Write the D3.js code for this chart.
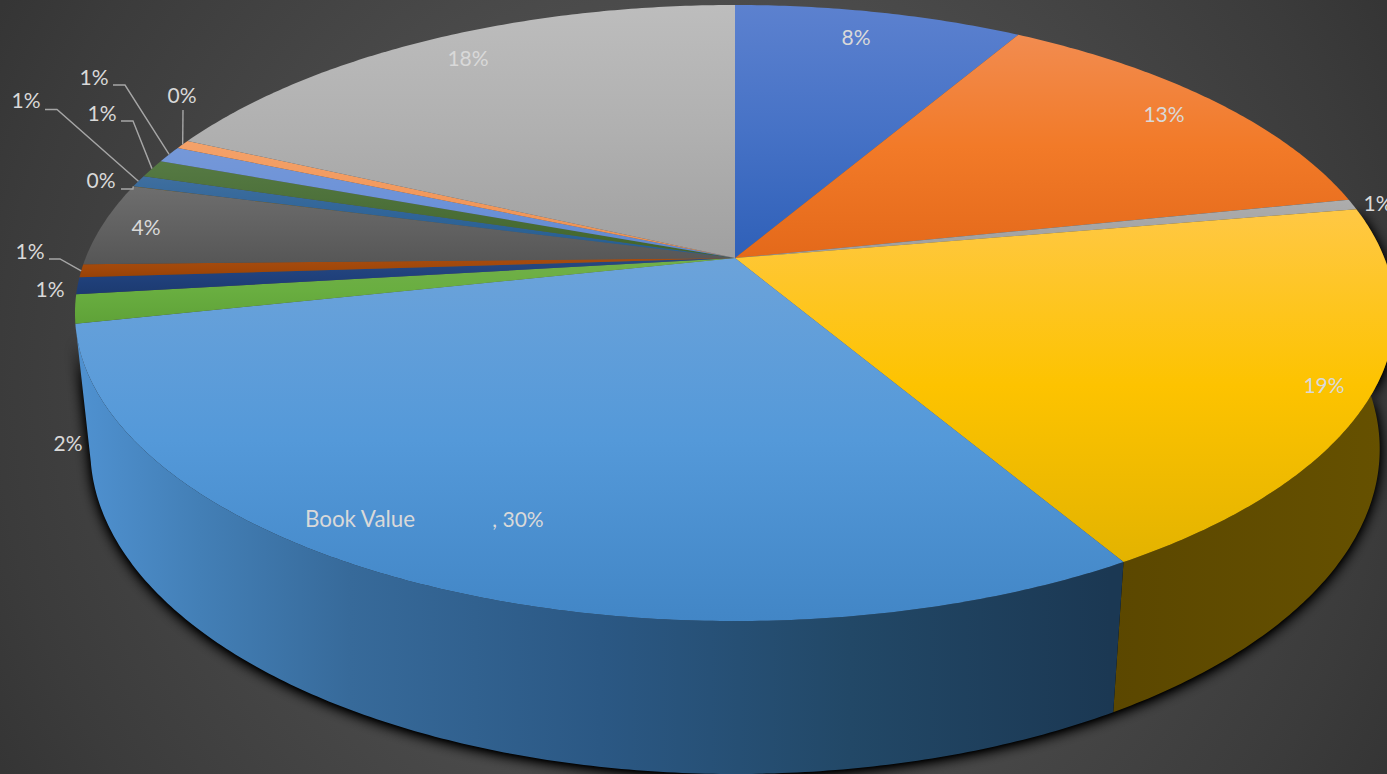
<!DOCTYPE html>
<html>
<head>
<meta charset="utf-8">
<script src="https://cdn.jsdelivr.net/npm/d3@7"></script>
<style>
  html, body { margin: 0; padding: 0; background: #3a3a3a; overflow: hidden; }
  text { font-family: Lato, "Open Sans", sans-serif; font-size: 21px; fill: #d9d9d9; }
</style>
</head>
<body>
<div id="chart"></div>
<script>
// share of each slice (percent)
let slice_values = [8.4, 13.35, 0.55, 19.25, 30.04, 1.5, 0.88, 0.69, 4.36, 0.01, 0.62, 0.94, 0.87, 0.47, 18.06]
let slice_labels = ["8%", "13%", "1%", "19%", ", 30%", "2%", "1%", "1%", "4%", "0%", "1%", "1%", "1%", "0%", "18%"]
let big_label_name = "Book Value"

// colors of the top face: top of slice, middle, bottom of slice
let color_light = ["#5c81cf", "#f28c50", "#adadad", "#ffc845", "#6ca3da", "#72b04a", "#284a80", "#a64c10", "#6e6e6e", "#997300", "#3f6f9f", "#567a44", "#7598d8", "#f4a26a", "#bdbdbd"]
let color_mid = ["#4672c6", "#f27a28", "#a5a5a5", "#fdc300", "#5499d9", "#69ae40", "#20417c", "#a2480a", "#626262", "#997300", "#2f6498", "#4b6f38", "#6c92d8", "#f2985c", "#b0b0b0"]
let color_dark = ["#2f60b8", "#e4691a", "#9e9e9e", "#e3b300", "#4286c6", "#5fa238", "#1c3a70", "#984206", "#565656", "#8f6a00", "#255e91", "#40642a", "#6088ce", "#ec9050", "#a0a0a0"]

// side wall gradient, stops along x
let wall_blue_x = [80, 200, 350, 600, 850, 1110]
let wall_blue_colors = ["#4f91d0", "#437fb6", "#376a9a", "#2b5884", "#224867", "#1b3853"]
let wall_yellow_x = [1110, 1390]
let wall_yellow_colors = ["#5b4700", "#665100"]

// leader lines: slice index, elbow, label side end
let leaders = [
    {slice: 7, from: [49, 259], elbow: [60, 259]},
    {slice: 9, from: [121, 189], elbow: [133, 189]},
    {slice: 10, from: [45, 109.5], elbow: [57, 109.5]},
    {slice: 11, from: [121, 121], elbow: [133, 121]},
    {slice: 12, from: [113, 85], elbow: [125, 85]},
    {slice: 13, from: [183, 110], elbow: [183, 110]}
]

// label centers, placed by hand like in the original
let label_spots = [[856, 36], [1164, 113], [1378, 202], [1324, 384], [518, 518], [68, 442], [50, 288], [30, 250], [146, 226], [101, 179], [26, 99], [102, 112], [94, 76], [182, 94], [468, 57]]

let w = 1387
let h = 774

// perspective of the disc
let apex_x = 735
let apex_y = 258
let half_w = 649.4
let half_h = 298.2
let persp = 0.1786
let depth_w = 0.023
let depth_drop = 137.5 / 298.2

let x_scale = d3.scaleLinear().domain([-1, 1]).range([apex_x - half_w, apex_x + half_w])
let y_scale = d3.scaleLinear().domain([-1, 1]).range([apex_y - half_h, apex_y + half_h])

function project(angle, z) {
    let u = Math.sin(angle)
    let v = -Math.cos(angle)
    let k = 1 - persp * v + depth_w * z
    return [x_scale(u / k), y_scale((v + depth_drop * z) / k)]
}

function arc_points(start, end, z) {
    let n = Math.max(2, Math.ceil((end - start) / 0.01))
    return d3.range(n + 1).map(i => project(start + (end - start) * i / n, z))
}

let pie = d3.pie().sort(null).value(d => d)
let slices = pie(slice_values)
let line = d3.line()

let svg = d3.select("#chart")
    .append("svg")
    .attr("width", w)
    .attr("height", h)
    .style("display", "block")

let defs = svg.append("defs")

let bg = defs.append("radialGradient")
    .attr("id", "bg")
    .attr("gradientUnits", "userSpaceOnUse")
    .attr("cx", 693).attr("cy", 387).attr("r", 790)
;[[0, "#5e5e5e"], [0.5, "#4b4b4b"], [0.88, "#3b3b3b"], [1, "#353535"]].forEach(s => {
    bg.append("stop").attr("offset", s[0]).attr("stop-color", s[1])
})

slices.forEach((d, i) => {
    let g = defs.append("linearGradient")
        .attr("id", "top-" + i)
        .attr("x1", 0).attr("y1", 0).attr("x2", 0).attr("y2", 1)
    g.append("stop").attr("offset", 0).attr("stop-color", color_light[i])
    g.append("stop").attr("offset", 0.5).attr("stop-color", color_mid[i])
    g.append("stop").attr("offset", 1).attr("stop-color", color_dark[i])
})

function wall_gradient(id, xs, colors) {
    let g = defs.append("linearGradient")
        .attr("id", id)
        .attr("gradientUnits", "userSpaceOnUse")
        .attr("x1", xs[0]).attr("y1", 0).attr("x2", xs[xs.length - 1]).attr("y2", 0)
    xs.forEach((x, i) => {
        g.append("stop")
            .attr("offset", (x - xs[0]) / (xs[xs.length - 1] - xs[0]))
            .attr("stop-color", colors[i])
    })
}
wall_gradient("wall-3", wall_yellow_x, wall_yellow_colors)
wall_gradient("wall-4", wall_blue_x, wall_blue_colors)

// blurred black copy of the wall, alpha pushed up so the band stays dark
let blur = defs.append("filter")
    .attr("id", "shadow")
    .attr("x", "-10%").attr("y", "-10%").attr("width", "120%").attr("height", "120%")
blur.append("feGaussianBlur").attr("stdDeviation", 7)
blur.append("feComponentTransfer")
    .append("feFuncA").attr("type", "linear").attr("slope", 1.6)

svg.append("rect").attr("width", w).attr("height", h).attr("fill", "url(#bg)")

// only yellow and book value show their side
let front = slices.filter(d => d.index == 3 || d.index == 4)

function wall_path(d) {
    let upper = arc_points(d.startAngle, d.endAngle, 0)
    let lower = arc_points(d.startAngle, d.endAngle, 1).reverse()
    return line(upper.concat(lower)) + "Z"
}

svg.append("g")
    .attr("filter", "url(#shadow)")
    .attr("transform", "translate(0, 2)")
    .selectAll("path")
    .data(front)
    .enter()
    .append("path")
    .attr("d", wall_path)
    .attr("fill", "#000")

svg.append("g")
    .selectAll("path")
    .data(front)
    .enter()
    .append("path")
    .attr("d", wall_path)
    .attr("fill", d => `url(#wall-${d.index})`)

svg.append("g")
    .selectAll("path")
    .data(slices)
    .enter()
    .append("path")
    .attr("d", d => line([[apex_x, apex_y]].concat(arc_points(d.startAngle, d.endAngle, 0))) + "Z")
    .attr("fill", d => `url(#top-${d.index})`)

svg.append("g")
    .selectAll("path")
    .data(leaders)
    .enter()
    .append("path")
    .attr("d", d => {
        let s = slices[d.slice]
        return line([d.from, d.elbow, project((s.startAngle + s.endAngle) / 2, 0)])
    })
    .attr("fill", "none")
    .attr("stroke", "#a6a6a6")
    .attr("stroke-width", 1.4)

svg.append("g")
    .selectAll("text")
    .data(slice_labels)
    .enter()
    .append("text")
    .attr("x", (d, i) => label_spots[i][0])
    .attr("y", (d, i) => label_spots[i][1])
    .attr("text-anchor", "middle")
    .attr("dominant-baseline", "central")
    .text(d => d)

svg.append("text")
    .attr("x", 360)
    .attr("y", 518)
    .attr("text-anchor", "middle")
    .attr("dominant-baseline", "central")
    .style("font-size", "22.4px")
    .text(big_label_name)
</script>
</body>
</html>
